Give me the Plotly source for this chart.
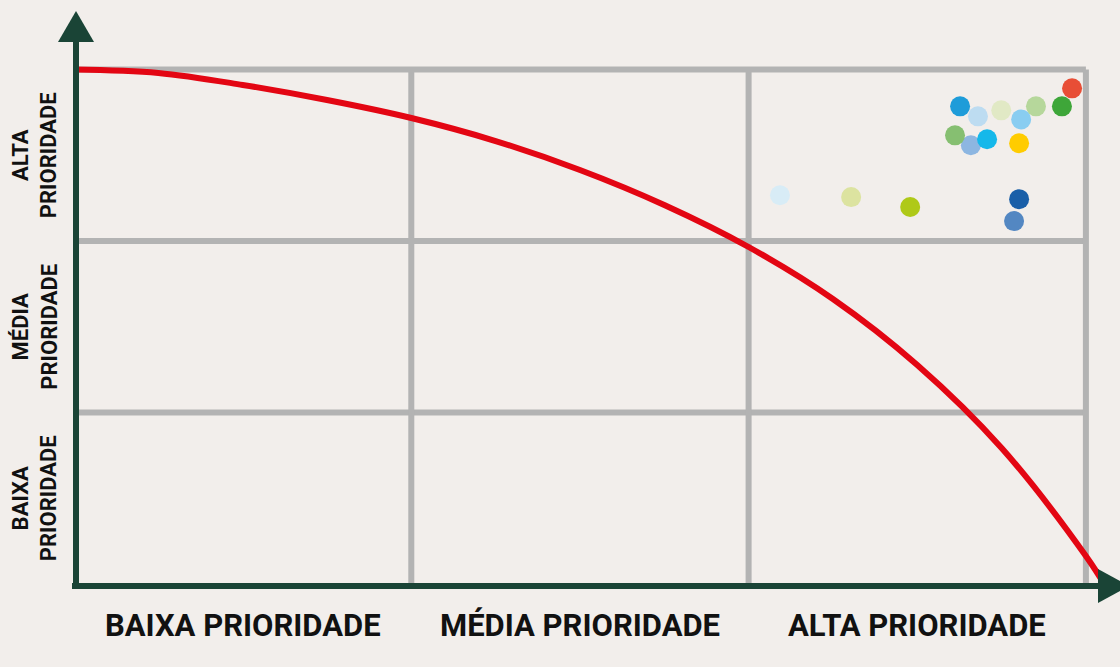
import plotly.graph_objects as go

# ---------------- data ----------------
x_categories = ["BAIXA PRIORIDADE", "MÉDIA PRIORIDADE", "ALTA PRIORIDADE"]
y_categories = ["BAIXA<br>PRIORIDADE", "MÉDIA<br>PRIORIDADE", "ALTA<br>PRIORIDADE"]

# red frontier curve (grid units 0..3)
curve_x = [0.0, 0.25, 0.5, 0.75, 1.0, 1.25, 1.5, 1.75, 2.0, 2.25, 2.5, 2.75, 3.0, 3.065]
curve_y = [3.000, 2.980, 2.910, 2.822, 2.717, 2.583, 2.414, 2.210, 1.965, 1.662,
           1.277, 0.793, 0.163, -0.035]

# scatter points
point_x = [2.093, 2.304, 2.479, 2.802, 2.787,
           2.659, 2.612, 2.707, 2.802, 2.627, 2.680, 2.749, 2.808,
           2.852, 2.929, 2.959]
point_y = [2.267, 2.256, 2.198, 2.244, 2.116,
           2.558, 2.616, 2.593, 2.570, 2.785, 2.727, 2.762, 2.709,
           2.785, 2.785, 2.890]
point_colors = ["#d8ecf6", "#dce3a0", "#afc918", "#1a5fa8", "#5387c2",
                "#8db6e1", "#86bf71", "#15b8ea", "#ffcc00", "#1e9cd9", "#bddcf1", "#e1e9c5", "#89cdf1",
                "#b6d79b", "#3ea639", "#e84e36"]

# ---------------- styling ----------------
BG = "#f2eeeb"
GRID = "#b3b3b3"
AXIS = "#1a4436"
RED = "#e30613"
FONT = "Roboto"

W, H = 1120, 667
X0, XS = 74.0, 337.3      # pixel of x=0, pixels per unit
Y0, YS = 584.0, 171.5     # pixel of y=0, pixels per unit


def px2x(p):
    return (p - X0) / XS


def py2y(p):
    return (Y0 - p) / YS


fig = go.Figure()

fig.add_trace(go.Scatter(x=curve_x, y=curve_y, mode="lines",
                         line=dict(color=RED, width=6, shape="spline", smoothing=1.0),
                         hoverinfo="skip", showlegend=False))

fig.add_trace(go.Scatter(x=point_x, y=point_y, mode="markers",
                         marker=dict(size=20, color=point_colors, line=dict(width=0), opacity=1),
                         showlegend=False))

shapes = []
n = len(x_categories)
# grid
for i in range(1, n + 1):
    shapes.append(dict(type="line", x0=0, x1=n, y0=i, y1=i, layer="below",
                       line=dict(color=GRID, width=6)))
    shapes.append(dict(type="line", x0=i, x1=i, y0=0, y1=n, layer="below",
                       line=dict(color=GRID, width=6)))
# axes
ax_x = px2x(76)
shapes.append(dict(type="line", x0=ax_x, x1=ax_x, y0=py2y(589), y1=py2y(40), layer="above",
                   line=dict(color=AXIS, width=6)))
shapes.append(dict(type="line", x0=px2x(72), x1=px2x(1100), y0=py2y(586), y1=py2y(586), layer="above",
                   line=dict(color=AXIS, width=6)))
# arrow heads
shapes.append(dict(type="path", layer="above", fillcolor=AXIS, line=dict(width=0),
                   path=f"M {px2x(58)},{py2y(42)} L {px2x(94)},{py2y(42)} L {px2x(76)},{py2y(11)} Z"))
shapes.append(dict(type="path", layer="above", fillcolor=AXIS, line=dict(width=0),
                   path=f"M {px2x(1098)},{py2y(569)} L {px2x(1098)},{py2y(603)} L {px2x(1129)},{py2y(586)} Z"))

annotations = []
for i, lab in enumerate(x_categories):
    annotations.append(dict(x=i + 0.5, y=py2y(625), text=lab, showarrow=False,
                            xanchor="center", yanchor="middle",
                            font=dict(family=FONT, size=31, color="#111111", weight="bold")))
for i, lab in enumerate(y_categories):
    annotations.append(dict(x=px2x(35), y=i + 0.5, text=lab, showarrow=False, textangle=-90,
                            xanchor="center", yanchor="middle",
                            font=dict(family=FONT, size=22, color="#111111", weight="bold")))

fig.update_layout(
    width=W, height=H,
    margin=dict(l=0, r=0, t=0, b=0),
    paper_bgcolor=BG, plot_bgcolor=BG,
    xaxis=dict(range=[px2x(0), px2x(W)], visible=False, fixedrange=True),
    yaxis=dict(range=[py2y(H), py2y(0)], visible=False, fixedrange=True),
    shapes=shapes, annotations=annotations, showlegend=False,
)

fig.write_html("out.html")
